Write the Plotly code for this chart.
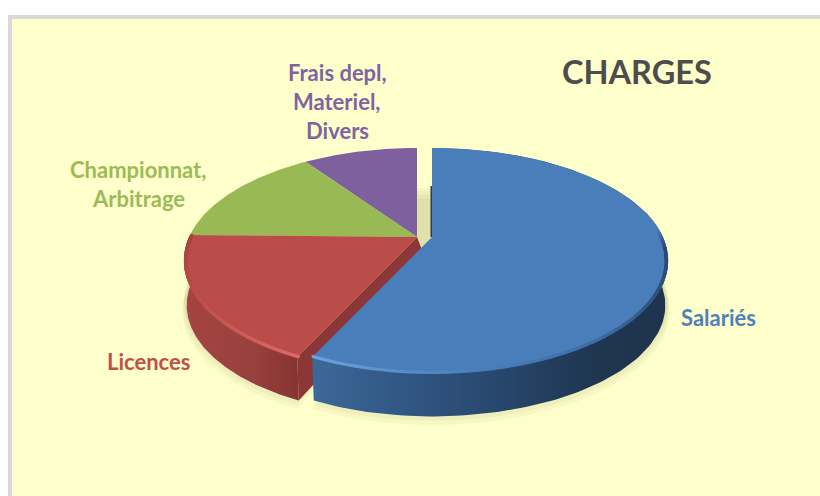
import numpy as np
import plotly.graph_objects as go

# ---- data ----
categories = ["Salariés", "Licences", "Championnat, Arbitrage", "Frais depl, Materiel, Divers"]
shares = [57.0, 18.3, 15.0, 9.7]
colors = ["#4A7EBB", "#BC4C4A", "#98B954", "#7F609F"]
title_text = "CHARGES"
label_lines = [["Salariés"], ["Licences"], ["Championnat,", "Arbitrage"], ["Frais depl,", "Materiel,", "Divers"]]
label_colors = ["#4F81BD", "#C0504D", "#9BBB59", "#8064A2"]
label_anchor = [(718, 317), (148, 361), (138, 184), (337, 101)]

# ---- projection of the tilted disc ----
W, H = 820, 496
P = 0.209
RX = 228.0
RY = 107.6
CY = 237.0
CX_REST = 417.0
CX_EXPL = 432.0
XS_EXPL = 1.013
THICK = 45.0


def ring(deg, cx, dz=0.0, scale=1.0):
    t = np.radians(deg)
    d = 1 + P * np.cos(t)
    xs = np.where(np.sin(t) > 0, XS_EXPL, 1.0) if cx == CX_EXPL else 1.0
    return (cx + xs * scale * RX * np.sin(t) / d, CY - scale * RY * np.cos(t) / d + dz)


def sector(a0, a1, cx, dz=0.0, scale=1.0):
    deg = np.linspace(a0, a1, 120)
    x, y = ring(deg, cx, dz, scale)
    return np.r_[cx, x, cx], np.r_[CY + dz, y, CY + dz]


ends = np.cumsum(shares) / np.sum(shares) * 360
starts = np.r_[0, ends[:-1]]
centres = [CX_EXPL, CX_REST, CX_REST, CX_REST]

fig = go.Figure()


def poly(x, y, color=None, grad=None):
    kw = dict(x=x, y=y, mode="lines", line=dict(width=0), fill="toself", hoverinfo="skip", showlegend=False)
    if grad:
        kw["fillgradient"] = dict(type="horizontal", colorscale=grad)
    else:
        kw["fillcolor"] = color
    fig.add_trace(go.Scatter(**kw))


# floor shadow, including the strip that shows through the gap at the top
for dz, sc in [(51, 1.006), (47, 1.004), (43, 1.0), (40, 0.998)]:
    for a0, a1, cx in zip(starts, ends, centres):
        x, y = sector(a0, a1, cx, dz, sc)
        poly(x, y, "rgba(110,110,50,0.055)")
    gx0, gy0 = ring(0.0, CX_REST, dz, sc)
    gx1, gy1 = ring(0.0, CX_EXPL, dz, sc)
    poly([gx0, gx1, gx1, gx0], [gy0, gy1, CY + 30, CY + 30], "rgba(110,110,50,0.055)")


def wall(a0, a1, cx, grad):
    deg = np.linspace(a0, a1, 160)
    xt, yt = ring(deg, cx)
    xb, yb = ring(deg[::-1], cx, THICK, 0.988)
    poly(np.r_[xt, xb], np.r_[yt, yb], grad=grad)


# red slice body: outer wall, then the cut face towards the centre
red_cut_top = ring(starts[1], CX_REST)
red_cut_bot = ring(starts[1], CX_REST, THICK, 0.988)
wall(starts[1], ends[1], CX_REST, [[0, "#A64442"], [0.6, "#98403D"], [1, "#863432"]])
poly([CX_REST, red_cut_top[0], red_cut_bot[0], CX_REST + 10],
     [CY, red_cut_top[1], red_cut_bot[1], CY + 26], "#8A3735")

# blue slice body
wall(starts[0], ends[0], CX_EXPL, [[0, "#3C6899"], [0.3, "#2F5480"], [0.55, "#27456A"], [0.8, "#1F3550"], [1, "#1E334E"]])
poly([CX_EXPL - 1.5, CX_EXPL, CX_EXPL, CX_EXPL - 1.5], [186, 186, CY, CY], "#2B3C4E")

# top faces
for i in [3, 2, 1, 0]:
    x, y = sector(starts[i], ends[i], centres[i])
    poly(x, y, colors[i])


def hex2rgb(c):
    return np.array([int(c[i:i + 2], 16) for i in (1, 3, 5)], float)


# bevelled rim along the front edge
rim_traces = [
    (starts[1], ends[1], CX_REST, [205, 225, 250, 271], ["#DB6C68", "#C85A57", "#B54A47", "#A84442"]),
    (86.0, ends[0], CX_EXPL, [86, 96, 120, 145, 170, 190, 205], ["#4A7EBB", "#2A4A70", "#2F5480", "#3F6EA6", "#4A7EBB", "#5C92CF", "#6FA3E0"]),
]
for a0, a1, cx, stops, cols in rim_traces:
    deg = np.linspace(a0, a1, 260)
    rgb = np.array([hex2rgb(c) for c in cols])
    vals = [np.interp(deg, stops, rgb[:, k]) for k in range(3)]
    c = [f"rgb({int(r)},{int(g)},{int(b)})" for r, g, b in zip(*vals)]
    mx, my = ring(deg, cx, 0.5, 0.992)
    fig.add_trace(go.Scatter(x=mx, y=my, mode="markers", hoverinfo="skip", showlegend=False,
                             marker=dict(size=3.5, color=c, line=dict(width=0))))

annotations = [dict(x=637, y=71, text=f"<b>{title_text}</b>", showarrow=False, xref="x", yref="y",
                    font=dict(family="Lato", size=32.5, color="#4D4D4D"))]
for lines, col, (ax, ay) in zip(label_lines, label_colors, label_anchor):
    n = len(lines)
    for j, s in enumerate(lines):
        annotations.append(dict(x=ax, y=ay + (j - (n - 1) / 2) * 29, text=f"<b>{s}</b>", showarrow=False,
                                xref="x", yref="y", font=dict(family="Lato", size=22, color=col)))

fig.update_layout(
    width=W, height=H, margin=dict(l=0, r=0, t=0, b=0), autosize=False,
    paper_bgcolor="white", plot_bgcolor="white", showlegend=False,
    xaxis=dict(range=[0, W], visible=False, fixedrange=True),
    yaxis=dict(range=[H, 0], visible=False, fixedrange=True),
    shapes=[dict(type="rect", xref="x", yref="y", x0=10, y0=17, x1=W + 10, y1=H + 10, layer="below",
                 fillcolor="#FFFFCC", line=dict(color="#D9D9D9", width=4))],
    annotations=annotations,
)
fig.write_html("out.html", post_script="document.body.style.margin='0';",
               config={"displayModeBar": False})
